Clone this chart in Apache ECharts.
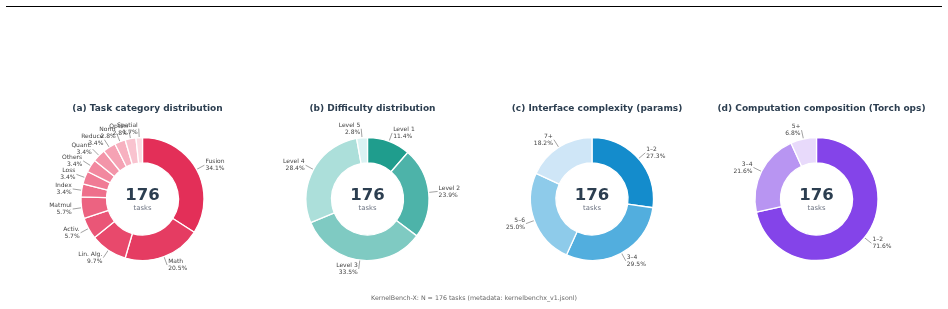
<!DOCTYPE html>
<html><head><meta charset="utf-8">
<script src="https://cdn.jsdelivr.net/npm/echarts@6/dist/echarts.min.js"></script>
<style>html,body{margin:0;padding:0;background:#fff}#c{width:948px;height:309px}</style>
</head><body><div id="c"></div>
<script>
const titles = ['(a) Task category distribution','(b) Difficulty distribution','(c) Interface complexity (params)','(d) Computation composition (Torch ops)'];
const catNames = ['Fusion','Math','Lin. Alg.','Activ.','Matmul','Index','Loss','Others','Quant.','Reduce','Norm','Optim','Spatial'];
const catValues = [60,36,17,10,10,6,6,6,6,6,5,5,3];
const catColors = ['#e32f58','#e53c62','#e8496c','#ea5677','#ec6381','#ee6f8b','#f07b95','#f2889f','#f395a9','#f5a2b4','#f7b1c0','#f9c3cf','#fcdbe2'];
const diffNames = ['Level 1','Level 2','Level 3','Level 4','Level 5'];
const diffValues = [20,42,59,50,5];
const diffColors = ['#1f9d8d','#4db3a9','#7fcac2','#acdfda','#dbf3f3'];
const ifaceNames = ['1–2','3–4','5–6','7+'];
const ifaceValues = [48,52,44,32];
const ifaceColors = ['#148ccc','#52aede','#8ecbea','#cfe6f7'];
const compNames = ['1–2','3–4','5+'];
const compValues = [126,38,12];
const compColors = ['#8444e9','#b895f2','#e8dafb'];
const footnote = 'KernelBench-X: N = 176 tasks (metadata: kernelbenchx_v1.jsonl)';

const centersX = [142.5, 367.5, 592, 816.5];
const cy = 199;
const groups = [
  [catNames, catValues, catColors],
  [diffNames, diffValues, diffColors],
  [ifaceNames, ifaceValues, ifaceColors],
  [compNames, compValues, compColors]
];
const FONT = 'DejaVu Sans';
const series = [];
const graphics = [];
const titleArr = [];
groups.forEach((g, i) => {
  const [names, vals, cols] = g;
  const total = vals.reduce((a, b) => a + b, 0);
  const data = names.map((n, k) => ({name: n, value: vals[k], itemStyle: {color: cols[k]}}));
  series.push({
    type: 'pie', center: [centersX[i], cy], radius: [36, 61.5],
    startAngle: 90, clockwise: true, silent: true, animation: false,
    itemStyle: {borderColor: '#fff', borderWidth: 1.3},
    label: {show: false}, labelLine: {show: false},
    data: data
  });
  series.push({
    type: 'pie', center: [centersX[i], cy], radius: [53, 54.5],
    startAngle: 90, clockwise: true, silent: true, animation: false,
    avoidLabelOverlap: false,
    labelLayout: {hideOverlap: false},
    itemStyle: {color: 'rgba(0,0,0,0)'},
    label: {show: true, position: 'outside', fontFamily: FONT, fontSize: 6, color: '#444', lineHeight: 7,
      distanceToLabelLine: 1,
      formatter: p => p.name + '\n' + (p.value / total * 100).toFixed(1) + '%'},
    labelLine: {show: true, length: 16, length2: 0, lineStyle: {color: '#8a8a8a', width: 0.8}},
    data: names.map((n, k) => ({name: n, value: vals[k]}))
  });
  titleArr.push({text: titles[i], left: centersX[i], top: 99.5, textAlign: 'center',
    textStyle: {fontFamily: FONT, fontSize: 9, fontWeight: 'bold', color: '#2c3e50'}});
  graphics.push({type: 'text', x: centersX[i], y: 195.5, silent: true,
    style: {text: String(total), fontFamily: FONT, fontSize: 16.5, fontWeight: 'bold', fill: '#2c3e50', align: 'center', verticalAlign: 'middle'}});
  graphics.push({type: 'text', x: centersX[i], y: 208.5, silent: true,
    style: {text: 'tasks', fontFamily: FONT, fontSize: 6.8, fill: '#6b7280', align: 'center', verticalAlign: 'middle'}});
});
graphics.push({type: 'line', shape: {x1: 6, y1: 6.5, x2: 942, y2: 6.5}, style: {stroke: '#000', lineWidth: 1}, silent: true});
graphics.push({type: 'text', x: 474, y: 298.5, silent: true,
  style: {text: footnote, fontFamily: FONT, fontSize: 6.3, fill: '#666', align: 'center', verticalAlign: 'middle'}});

const chart = echarts.init(document.getElementById('c'), null, {renderer: 'canvas'});
chart.setOption({animation: false, backgroundColor: '#fff', title: titleArr, series: series, graphic: graphics});
</script></body></html>
